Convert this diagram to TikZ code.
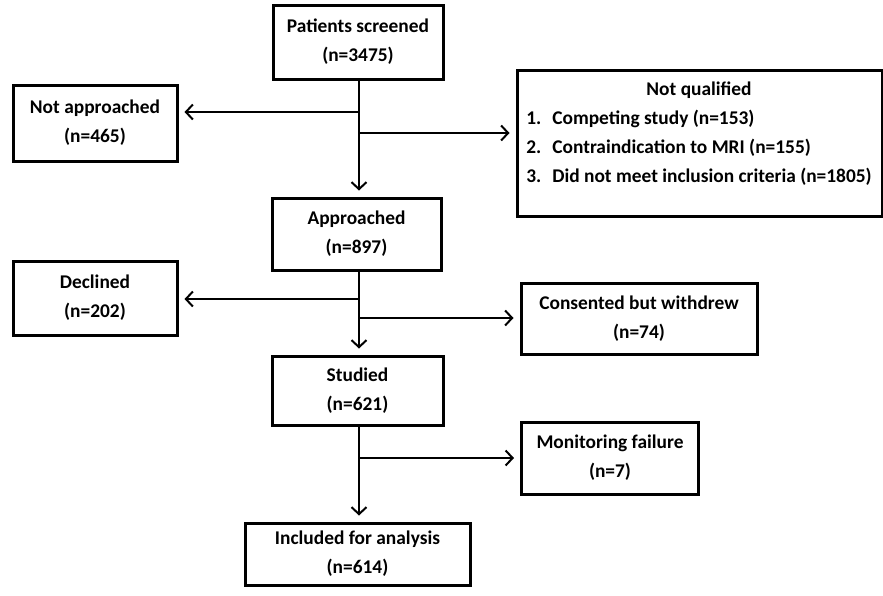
\documentclass[tikz,border=0pt]{standalone}
\usepackage{fontspec}
\setmainfont{Carlito}
\usepackage{tikz}
\usetikzlibrary{
    arrows.meta,
    positioning,
    calc
}
\tikzset{
    stagebox/.style={
        draw,
        line width=3pt,
        align=center,
        inner sep=0pt
    }
}
\tikzset{
    flowarrow/.style={
        draw,
        line width=2pt,
        -{Straight Barb[length=7pt,width=15pt,line width=2pt]},
        shorten >=6pt
    }
}

\begin{document}
\begin{tikzpicture}[
    x=1pt, y=-1pt,
    font=\fontsize{19.4}{29}\selectfont\bfseries
]
\useasboundingbox (0,0) rectangle (883,595);

% ------------------------------------------------------------
% Main stages
% ------------------------------------------------------------

\node[stagebox, minimum width=170pt, minimum height=74pt] (screened) at (358,42)
    {Patients screened\\(n=3475)};
\node[stagebox, minimum width=169pt, minimum height=72pt] (approached) at (356.5,234)
    {Approached\\(n=897)};
\node[stagebox, minimum width=171pt, minimum height=69pt] (studied) at (357.5,390.5)
    {Studied\\(n=621)};
\node[stagebox, minimum width=225pt, minimum height=62pt] (included) at (357.5,554)
    {Included for analysis\\(n=614)};

% ------------------------------------------------------------
% Exclusions
% ------------------------------------------------------------

\node[stagebox, minimum width=164pt, minimum height=76pt] (notapp) at (95,123)
    {Not approached\\(n=465)};
\node[stagebox, minimum width=365pt, minimum height=146pt] (notqual) at (699.5,143) {};
\node[inner sep=0pt] (notqualtext) at (699,133.5) {%
    \begin{tabular}{@{}l@{\hspace{11pt}}l@{}}
        \multicolumn{2}{c}{Not qualified} \\
        1. & Competing study (n=153) \\
        2. & Contraindication to MRI (n=155) \\
        3. & Did not meet inclusion criteria (n=1805) \\
    \end{tabular}};
\node[stagebox, minimum width=164pt, minimum height=74pt] (declined) at (95,298)
    {Declined\\(n=202)};
\node[stagebox, minimum width=236pt, minimum height=71pt] (consented) at (639,318.5)
    {Consented but withdrew\\(n=74)};
\node[stagebox, minimum width=177pt, minimum height=72pt] (monitoring) at (610,458)
    {Monitoring failure\\(n=7)};

% ------------------------------------------------------------
% Connectors
% ------------------------------------------------------------

\coordinate (j1) at (359,112);
\coordinate (j2) at (359,133);
\coordinate (j3) at (359,299);
\coordinate (j4) at (359,318);
\coordinate (j5) at (359,458);

\draw[flowarrow] (screened.south -| j1) -- (approached.north -| j1);
\draw[flowarrow] (j1) -- (j1 -| notapp.east);
\draw[flowarrow] (j2) -- (j2 -| notqual.west);

\draw[flowarrow] (approached.south -| j3) -- (studied.north -| j3);
\draw[flowarrow] (j3) -- (j3 -| declined.east);
\draw[flowarrow] (j4) -- (j4 -| consented.west);

\draw[flowarrow] (studied.south -| j5) -- (included.north -| j5);
\draw[flowarrow] (j5) -- (j5 -| monitoring.west);

\end{tikzpicture}
\end{document}
